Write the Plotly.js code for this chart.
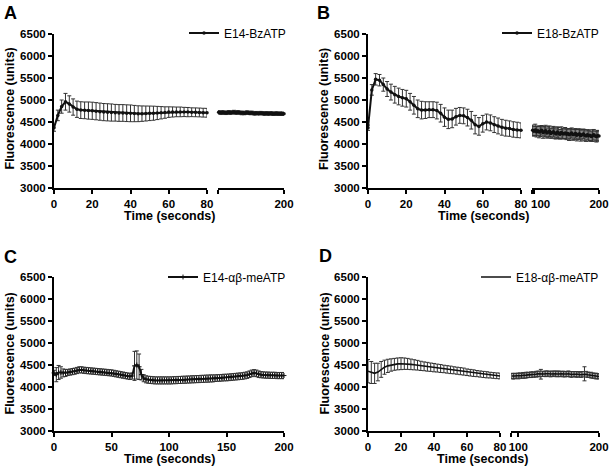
<!DOCTYPE html>
<html>
<head>
<meta charset="utf-8">
<script src="https://cdn.plot.ly/plotly-3.0.1.min.js"></script>
<style>
  body { margin: 0; background: #fff; }
  #plot { width: 609px; height: 468px; }
</style>
</head>
<body>
<div id="plot"></div>
<script>
// sample times (seconds)
const tEarly = [0,2,4,6,8,10,12,14,16,18,20,22,24,26,28,30,32,34,36,38,40,42,44,46,48,50,52,54,56,58,60,62,64,66,68,70,72,74,76,78,80];
const tLate = [98,100,102,104,106,108,110,112,114,116,118,120,122,124,126,128,130,132,134,136,138,140,142,144,146,148,150,152,154,156,158,160,162,164,166,168,170,172,174,176,178,180,182,184,186,188,190,192,194,196,198,200];
const tLateD = [92,94,96].concat(tLate);
const tAll = tEarly.concat([82,84,86,88,90,92,94,96], tLate);

const yTicks = [3000,3500,4000,4500,5000,5500,6000,6500];

// A: E14-BzATP
const a1Mean = [4370,4650,4850,4960,4910,4840,4790,4770,4765,4760,
  4755,4745,4735,4725,4720,4715,4710,4705,4705,4700,
  4697,4692,4688,4690,4693,4697,4700,4705,4710,4715,
  4725,4728,4730,4730,4728,4725,4722,4720,4717,4712,
  4710];
const a1Err = [80,120,150,190,185,185,185,190,190,195,
  195,195,195,195,195,195,190,190,190,190,
  190,185,180,175,170,165,160,150,140,130,
  120,115,110,110,105,105,100,100,100,100,
  100];
const a2Mean = [4720,4715,4710,4720,4715,4710,4705,4715,4720,4710,
  4715,4720,4725,4715,4710,4720,4715,4710,4705,4710,
  4700,4705,4715,4710,4700,4705,4710,4700,4695,4705,
  4700,4695,4700,4705,4700,4695,4690,4700,4695,4690,
  4695,4700,4690,4685,4690,4695,4690,4685,4690,4685,
  4690,4685];
const a2Err = [35,30,40,35,30,40,35,30,40,35,
  35,30,40,35,30,40,35,30,40,35,
  35,30,40,35,30,40,35,30,40,35,
  35,30,40,35,30,40,35,30,40,35,
  35,30,40,35,30,40,35,30,40,35,
  35,30];

// B: E18-BzATP
const b1Mean = [4370,5230,5470,5450,5350,5250,5180,5120,5080,5050,
  5030,4960,4880,4800,4770,4770,4780,4780,4760,4700,
  4610,4560,4570,4620,4650,4640,4600,4540,4440,4400,
  4460,4500,4480,4440,4410,4380,4360,4350,4330,4320,
  4310];
const b1Err = [60,120,130,130,150,170,180,190,190,190,
  190,190,200,200,200,190,180,180,190,200,
  210,210,200,190,180,180,190,200,210,200,
  190,180,180,180,180,180,180,175,175,175,
  170];
const b2Mean = [4310,4290,4320,4280,4300,4270,4290,4310,4260,4280,
  4300,4250,4270,4290,4240,4260,4280,4250,4230,4270,
  4250,4220,4260,4240,4230,4250,4220,4240,4210,4230,
  4250,4210,4220,4240,4200,4220,4230,4190,4210,4230,
  4200,4180,4210,4190,4200,4170,4190,4210,4180,4170,
  4190,4180];
const b2Err = [120,110,130,120,110,130,120,110,130,120,
  125,115,130,120,110,125,120,130,115,120,
  125,110,130,120,115,125,120,110,130,120,
  115,125,120,110,130,120,115,125,120,110,
  130,120,115,125,120,110,130,120,115,125,
  120,115];

// C: E14-ab-meATP, one axis 0-200
const cMean = [4320,4280,4330,4330,4320,4320,4330,4340,4350,4360,
  4375,4390,4390,4380,4375,4370,4365,4360,4355,4350,
  4345,4340,4335,4330,4325,4320,4310,4300,4290,4280,
  4270,4260,4250,4240,4250,4480,4500,4460,4280,4200,
  4175,4165,4160,4155,4150,4150,4150,4150,4150,4150,
  4150,4150,4155,4155,4160,4160,4165,4165,4170,4170,
  4175,4175,4180,4180,4185,4185,4190,4190,4195,4195,
  4200,4205,4205,4210,4215,4215,4220,4225,4230,4235,
  4240,4245,4250,4260,4270,4290,4310,4320,4310,4290,
  4280,4275,4270,4270,4265,4265,4265,4260,4260,4260,
  4260];
const cErr = [60,160,160,130,90,80,70,70,70,70,
  70,70,70,70,70,70,70,70,70,70,
  70,70,70,70,70,70,70,70,70,70,
  70,70,70,70,70,330,320,290,120,80,
  80,80,80,80,80,80,80,80,80,80,
  80,80,80,80,80,80,80,80,80,80,
  80,80,80,80,80,80,80,80,80,80,
  75,75,75,75,75,75,75,75,75,75,
  75,75,75,75,75,75,75,75,75,75,
  70,70,70,70,70,70,70,70,70,70,
  70];

// D: E18-ab-meATP
const d1Mean = [4360,4330,4310,4340,4400,4450,4480,4500,4515,4525,
  4530,4530,4525,4515,4505,4495,4480,4470,4460,4450,
  4440,4430,4420,4410,4400,4390,4380,4370,4360,4350,
  4335,4325,4315,4305,4295,4285,4278,4270,4262,4255,
  4250];
const d1Err = [265,250,230,200,180,160,150,140,135,135,
  135,130,125,120,115,110,105,100,100,95,
  95,90,90,85,85,85,80,80,80,80,
  75,75,75,70,70,70,70,65,65,65,
  65];
const d2Mean = [4250,4245,4250,4255,4250,4260,4255,4265,4260,4270,
  4275,4270,4280,4285,4280,4290,4300,4295,4290,4300,
  4295,4300,4305,4300,4295,4300,4305,4300,4295,4300,
  4295,4300,4295,4290,4295,4300,4290,4285,4290,4295,
  4285,4290,4280,4285,4290,4300,4290,4280,4275,4270,
  4260,4255,4250,4245,4240];
const d2Err = [60,65,60,55,65,60,55,65,60,65,
  60,55,65,60,55,65,60,65,110,60,
  55,65,60,55,65,60,55,65,60,65,
  60,55,65,60,55,65,60,65,60,55,
  65,60,55,65,60,160,65,60,55,65,
  60,55,65,60,55];

const FONT = 'Liberation Sans, Arial, Helvetica, sans-serif';
const W = 609, H = 468;
function px(x) { return x / W; }   // pixel -> paper x
function py(y) { return 1 - y / H; } // pixel -> paper y

function series(x, y, err, xa, ya, name, legend, symbol, withMarkers) {
  return {
    x: x, y: y, type: 'scatter',
    mode: withMarkers ? 'lines+markers' : 'lines',
    name: name || '', legend: legend, showlegend: !!name,
    xaxis: xa, yaxis: ya,
    line: { color: '#111', width: withMarkers ? 2 : 1.6 },
    marker: { color: '#111', size: 3.5, symbol: symbol },
    error_y: { type: 'data', array: err, visible: true, color: '#333', thickness: 1, width: 2 },
    cliponaxis: false,
    hoverinfo: 'skip'
  };
}

function axisStyle() {
  return {
    showline: true, linewidth: 2, linecolor: '#000',
    ticks: 'outside', ticklen: 4, tickwidth: 2, tickcolor: '#000',
    showgrid: false, zeroline: false, fixedrange: true,
    tickfont: { family: FONT, size: 11.5, weight: 'bold', color: '#000' }
  };
}

function xAxis(left, right, range, tickvals, ticktext, anchor) {
  return Object.assign(axisStyle(), {
    domain: [px(left), px(right)], range: range, anchor: anchor,
    tickmode: 'array', tickvals: tickvals, ticktext: ticktext
  });
}

function yAxis(top, bottom, anchor) {
  return Object.assign(axisStyle(), {
    domain: [py(bottom), py(top)], range: [3000, 6500], anchor: anchor,
    tickmode: 'array', tickvals: yTicks
  });
}

function legendAt(right, y) {
  return {
    x: px(right), xanchor: 'right', y: py(y), yanchor: 'middle',
    bgcolor: 'rgba(0,0,0,0)', borderwidth: 0,
    font: { family: FONT, size: 12, color: '#000' }
  };
}

function label(text, x, y, size, angle) {
  return {
    text: text, xref: 'paper', yref: 'paper', x: px(x), y: py(y),
    xanchor: 'center', yanchor: 'middle', showarrow: false, textangle: angle || 0,
    font: { family: FONT, size: size, weight: 'bold', color: '#000' }
  };
}

const data = [
  series(tEarly, a1Mean, a1Err, 'x', 'y', 'E14-BzATP', 'legend', 'circle', true),
  series(tLate, a2Mean, a2Err, 'x2', 'y', null, 'legend', 'circle', true),
  series(tEarly, b1Mean, b1Err, 'x3', 'y2', 'E18-BzATP', 'legend2', 'circle', true),
  series(tLate, b2Mean, b2Err, 'x4', 'y2', null, 'legend2', 'circle', true),
  series(tAll, cMean, cErr, 'x5', 'y3', 'E14-\u03b1\u03b2-meATP', 'legend3', 'cross-thin-open', true),
  series(tEarly, d1Mean, d1Err, 'x6', 'y4', 'E18-\u03b1\u03b2-meATP', 'legend4', 'circle', false),
  series(tLateD, d2Mean, d2Err, 'x7', 'y4', null, 'legend4', 'circle', false)
];

const early = [0, 20, 40, 60, 80];
const earlyText = ['0', '20', '40', '60', '80'];

// the "100" of panel B sits a little right of its tick (it would hit "80")
const b100 = {
  text: '100', xref: 'x4', yref: 'paper', x: 100, y: py(204),
  xanchor: 'center', yanchor: 'middle', xshift: 7, showarrow: false,
  font: { family: FONT, size: 11.5, weight: 'bold', color: '#000' }
};

const layout = {
  width: W, height: H,
  margin: { l: 0, r: 0, t: 0, b: 0 },
  paper_bgcolor: '#fff', plot_bgcolor: 'rgba(0,0,0,0)',
  font: { family: FONT, color: '#000' },
  xaxis: xAxis(54, 207, [0, 80], early, earlyText, 'y'),
  xaxis2: xAxis(218, 284, [97, 200], [97, 200], ['', '200'], 'y'),
  xaxis3: xAxis(368, 521, [0, 80], early, earlyText, 'y2'),
  xaxis4: xAxis(532, 599, [97, 200], [97, 100, 200], ['', '', '200'], 'y2'),
  xaxis5: xAxis(54, 284, [0, 200], [0, 50, 100, 150, 200], ['0', '50', '100', '150', '200'], 'y3'),
  xaxis6: xAxis(368, 500, [0, 80], early, earlyText, 'y4'),
  xaxis7: xAxis(511, 599, [91, 200], [91, 100, 200], ['', '100', '200'], 'y4'),
  yaxis: yAxis(34, 188, 'x'),
  yaxis2: yAxis(34, 188, 'x3'),
  yaxis3: yAxis(277, 431, 'x5'),
  yaxis4: yAxis(277, 431, 'x6'),
  legend: legendAt(291, 33),
  legend2: legendAt(604, 33),
  legend3: legendAt(291, 277),
  legend4: legendAt(604, 277),
  annotations: [
    label('A', 10, 13, 18), label('B', 323, 13, 18),
    label('C', 10, 257, 18), label('D', 325, 256, 18),
    label('Fluorescence (units)', 9.5, 109, 12.5, -90),
    label('Fluorescence (units)', 324, 109, 12.5, -90),
    label('Fluorescence (units)', 9.5, 354, 12.5, -90),
    label('Fluorescence (units)', 324.5, 354, 12.5, -90),
    label('Time (seconds)', 169, 216, 12.5),
    label('Time (seconds)', 483, 216, 12.5),
    label('Time (seconds)', 169, 459, 12.5),
    label('Time (seconds)', 482, 459, 12.5),
    b100
  ]
};

Plotly.newPlot('plot', data, layout, { displayModeBar: false, staticPlot: true });
</script>
</body>
</html>
